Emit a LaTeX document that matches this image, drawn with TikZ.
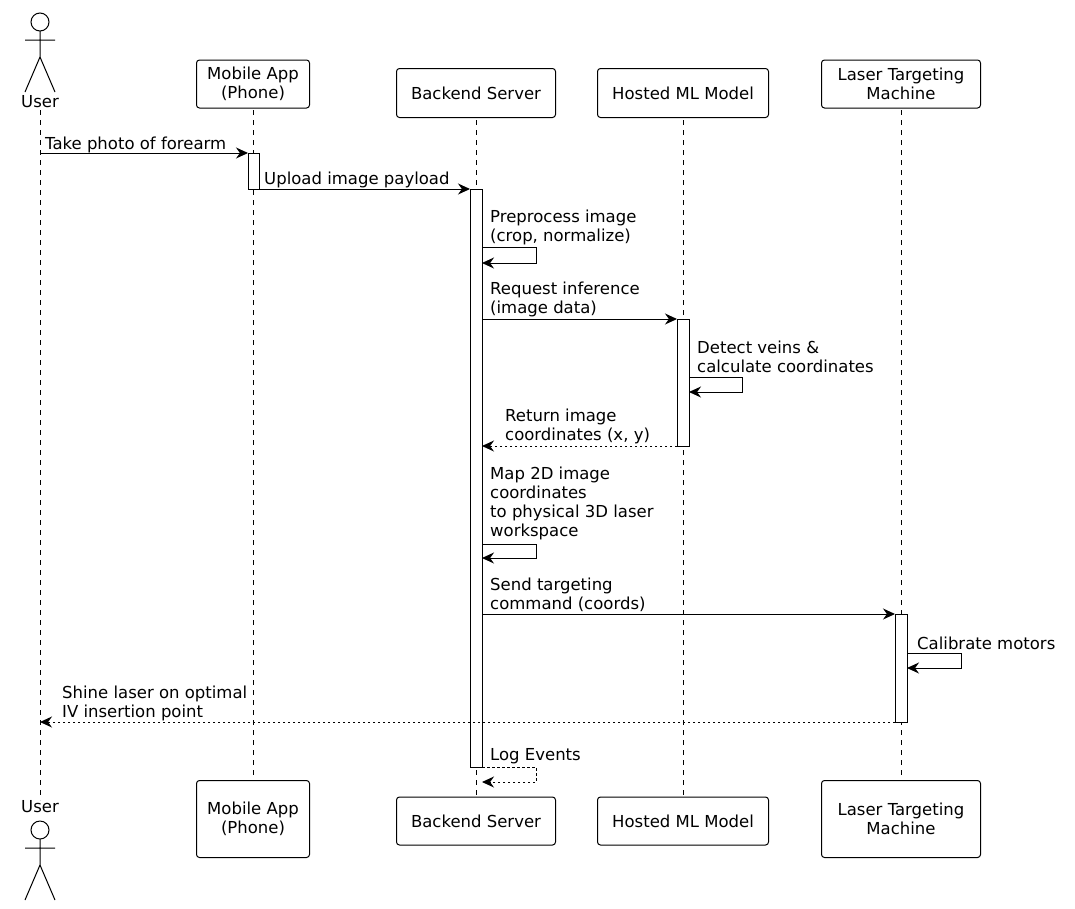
\documentclass[tikz,border=0pt]{standalone}
\usepackage{fontspec}
\setmainfont{DejaVu Sans}
\usetikzlibrary{arrows.meta}
\begin{document}
\begin{tikzpicture}[x=1pt,y=-1pt,
  font=\fontsize{16.5}{19}\selectfont,
  part/.style={draw,line width=1pt,rounded corners=3pt,fill=white,align=center,minimum height=48pt,inner xsep=9pt},
  life/.style={dashed,dash pattern=on 5pt off 5pt,line width=0.8pt},
  act/.style={draw,fill=white,line width=1pt},
  msg/.style={-{Stealth[length=12pt,width=11pt]},line width=1pt},
  ret/.style={msg,dash pattern=on 2.5pt off 2.5pt},
  lbl/.style={anchor=south west,align=left,inner sep=0pt,yshift=-3pt}]
\useasboundingbox (0,0) rectangle (1075,908);
% lifelines
\foreach \x in {40,253,476,683,901}{\draw[life] (\x,110) -- (\x,800);}
% actors
\newcommand{\actorfig}[2]{%
 \draw[line width=1pt] (#1,#2) circle (9);
 \draw[line width=1pt] (#1,#2+9) -- (#1,#2+35) (#1-15,#2+18) -- (#1+15,#2+18)
   (#1,#2+35) -- (#1-15,#2+70) (#1,#2+35) -- (#1+15,#2+70);}
\actorfig{40}{22}
\node (ut) at (40,102) {User};
\node (ub) at (40,807) {User};
\actorfig{40}{830}
% participants
\node[part,minimum width=113pt] (mt) at (253,84) {Mobile App\\(Phone)};
\node[part,minimum width=159pt,minimum height=49pt] (bt) at (476,93) {Backend Server};
\node[part,minimum width=171pt,minimum height=49pt] (lt) at (683,93) {Hosted ML Model};
\node[part,minimum width=159pt] (xt) at (901,84) {Laser Targeting\\Machine};
\node[part,minimum width=113pt,minimum height=77pt] (mb) at (253,819) {Mobile App\\(Phone)};
\node[part,minimum width=159pt] (bb) at (476,821) {Backend Server};
\node[part,minimum width=171pt] (lb) at (683,821) {Hosted ML Model};
\node[part,minimum width=159pt,minimum height=77pt] (xb) at (901,819) {Laser Targeting\\Machine};
% activations
\draw[act] (248,153) rectangle (259,189);
\draw[act] (470,189) rectangle (482,767);
\draw[act] (677,319) rectangle (689,446);
\draw[act] (895,614) rectangle (907,722);
% messages
\coordinate (a1) at (40,153); \coordinate (b1) at (248,153);
\draw[msg] (a1) -- (b1);
\node[lbl] at (45,150) {Take photo of forearm};
\coordinate (a2) at (259,189); \coordinate (b2) at (470,189);
\draw[msg] (a2) -- (b2);
\node[lbl] at (264,185) {Upload image payload};
\coordinate (a3) at (482,247); \coordinate (b3) at (482,263);
\draw[msg] (a3) -- (536,247) -- (536,263) -- (b3);
\node[lbl] at (490,242) {Preprocess image\\(crop, normalize)};
\coordinate (a4) at (482,319); \coordinate (b4) at (677,319);
\draw[msg] (a4) -- (b4);
\node[lbl] at (490,314) {Request inference\\(image data)};
\coordinate (a5) at (689,377); \coordinate (b5) at (689,392);
\draw[msg] (a5) -- (742,377) -- (742,392) -- (b5);
\node[lbl] at (697,370) {Detect veins \&\\calculate coordinates};
\coordinate (a6) at (677,446); \coordinate (b6) at (482,446);
\draw[ret] (a6) -- (b6);
\node[lbl] at (505,441) {Return image\\coordinates (x, y)};
\coordinate (a7) at (482,544); \coordinate (b7) at (482,558);
\draw[msg] (a7) -- (536,544) -- (536,558) -- (b7);
\node[lbl] at (490,537) {Map 2D image\\coordinates\\to physical 3D laser\\workspace};
\coordinate (a8) at (482,614); \coordinate (b8) at (895,614);
\draw[msg] (a8) -- (b8);
\node[lbl] at (490,609) {Send targeting\\command (coords)};
\coordinate (a9) at (907,653); \coordinate (b9) at (907,668);
\draw[msg] (a9) -- (961,653) -- (961,668) -- (b9);
\node[lbl] at (917,647) {Calibrate motors};
\coordinate (a10) at (895,722); \coordinate (b10) at (40,722);
\draw[ret] (a10) -- (b10);
\node[lbl] at (62,718) {Shine laser on optimal\\IV insertion point};
\coordinate (a11) at (482,767); \coordinate (b11) at (482,782);
\draw[ret] (a11) -- (536,767) -- (536,782) -- (b11);
\node[lbl] at (490,761) {Log Events};
\end{tikzpicture}
\end{document}
